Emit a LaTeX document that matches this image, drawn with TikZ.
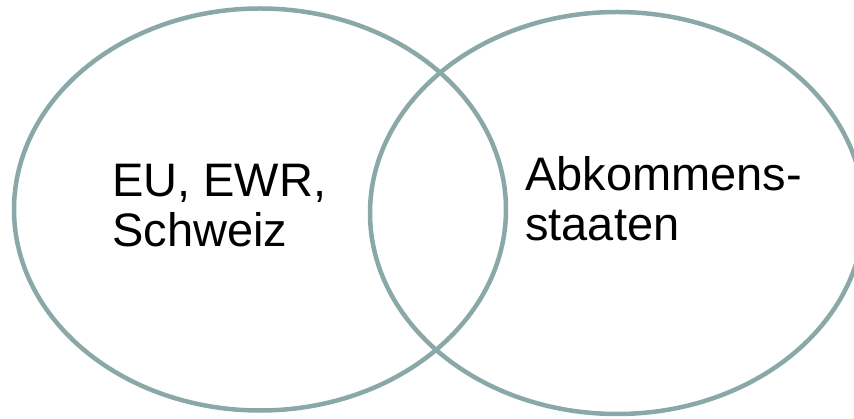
\documentclass[tikz,border=0pt]{standalone}
\usepackage{fontspec}
\setmainfont{Liberation Sans}
\definecolor{venn}{HTML}{8AA8A8}
\begin{document}
\begin{tikzpicture}[x=1pt,y=-1pt,
  ring/.style={draw=venn,line width=4.5pt},
  lbl/.style={anchor=base west,align=left,inner sep=0pt,font=\fontsize{47}{50}\selectfont}]
\useasboundingbox (0,0) rectangle (854,419);
\draw[ring] (260,209.5) ellipse [x radius=246,y radius=201];
\draw[ring] (617,213) ellipse [x radius=247,y radius=201];
\node[lbl] (left) at (112,247) {EU, EWR,\\Schweiz};
\node[lbl] (right) at (525,241) {Abkommens-\\staaten};
\end{tikzpicture}
\end{document}
